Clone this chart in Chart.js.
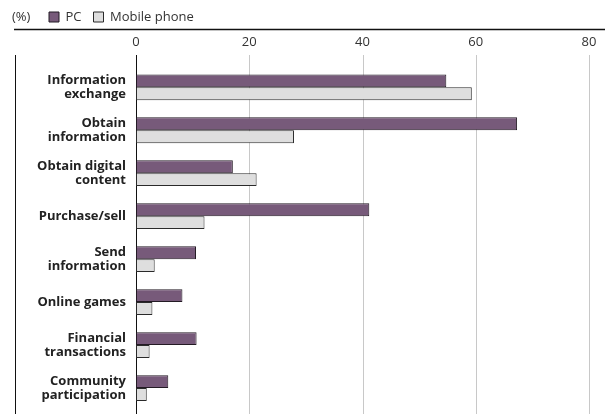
<!DOCTYPE html>
<html>
<head>
<meta charset="utf-8">
<script src="https://cdn.jsdelivr.net/npm/chart.js@4.4.1/dist/chart.umd.min.js"></script>
<style>
  html, body { margin: 0; padding: 0; background: #fff; }
  #wrap { width: 605px; height: 414px; position: relative; }
</style>
</head>
<body>
<div id="wrap"><canvas id="usoInternet"></canvas></div>
<script>
// categorias e valores (%)
const categorias = [
  ['Information', 'exchange'],
  ['Obtain', 'information'],
  ['Obtain digital', 'content'],
  'Purchase/sell',
  ['Send', 'information'],
  'Online games',
  ['Financial', 'transactions'],
  ['Community', 'participation']
];
const valoresPC = [54.8, 67.3, 17.1, 41.2, 10.6, 8.2, 10.7, 5.7];
const valoresCelular = [59.3, 27.9, 21.3, 12.1, 3.3, 2.9, 2.4, 1.9];
const marcasX = [0, 20, 40, 60, 80];

const fonte = 'Open Sans';

// linhas de moldura e grade desenhadas por baixo das barras
const molduraPlugin = {
  id: 'moldura',
  afterLayout(chart) {
    // sobe um pouco a legenda
    chart.legend.top -= 1.5;
    chart.legend.bottom -= 1.5;
  },
  beforeDatasetsDraw(chart) {
    const ctx = chart.ctx;
    const x = chart.scales.x;
    const topo = 55, base = 414;
    ctx.save();
    ctx.lineWidth = 1;
    marcasX.forEach(v => {
      if (v === 0) return;
      const px = Math.round(x.getPixelForValue(v)) + 0.5;
      ctx.strokeStyle = '#c8c8c8';
      ctx.beginPath();
      ctx.moveTo(px, topo);
      ctx.lineTo(px, base);
      ctx.stroke();
    });
    // eixo zero
    const px0 = Math.round(x.getPixelForValue(0)) + 0.5;
    ctx.strokeStyle = '#111';
    ctx.beginPath();
    ctx.moveTo(px0, topo);
    ctx.lineTo(px0, base);
    ctx.stroke();
    // linha vertical da esquerda
    ctx.beginPath();
    ctx.moveTo(15.5, topo);
    ctx.lineTo(15.5, base);
    ctx.stroke();
    // linha horizontal do topo
    ctx.lineWidth = 1.4;
    ctx.beginPath();
    ctx.moveTo(14, 29.5);
    ctx.lineTo(605, 29.5);
    ctx.stroke();
    // unidade
    ctx.fillStyle = '#333';
    ctx.font = '13px "' + fonte + '"';
    ctx.textBaseline = 'middle';
    ctx.textAlign = 'left';
    ctx.fillText('(%)', 12, 17);
    ctx.restore();
  }
};

function semFolga(scale) {
  scale.paddingTop = 0;
  scale.paddingBottom = 0;
  scale.paddingLeft = 0;
  scale.paddingRight = 0;
}

const ctx = document.getElementById('usoInternet').getContext('2d');
const grafico = new Chart(ctx, {
  type: 'bar',
  data: {
    labels: categorias,
    datasets: [
      {
        label: 'PC',
        data: valoresPC,
        backgroundColor: '#775a7a',
        borderColor: '#231a24',
        borderWidth: 1,
        borderSkipped: false
      },
      {
        label: 'Mobile phone',
        data: valoresCelular,
        backgroundColor: '#dedede',
        borderColor: '#2a2a2a',
        borderWidth: 1,
        borderSkipped: false
      }
    ]
  },
  options: {
    indexAxis: 'y',
    responsive: true,
    maintainAspectRatio: false,
    animation: false,
    categoryPercentage: 0.6,
    barPercentage: 1,
    layout: {
      padding: { top: 0, left: 37, right: 16, bottom: 4.5 }
    },
    plugins: {
      legend: {
        position: 'top',
        align: 'start',
        labels: {
          boxWidth: 10,
          boxHeight: 10,
          padding: 12,
          color: '#333',
          font: { family: fonte, size: 13 }
        }
      },
      tooltip: { enabled: false }
    },
    scales: {
      x: {
        position: 'top',
        min: 0,
        max: 80,
        afterBuildTicks(scale) {
          scale.ticks = marcasX.map(v => ({ value: v }));
        },
        afterFit(scale) {
          scale.height = 30.8;
          semFolga(scale);
        },
        grid: { display: false, drawTicks: false },
        border: { display: false },
        ticks: {
          padding: 15.5,
          color: '#333',
          font: { family: fonte, size: 13 }
        }
      },
      y: {
        afterFit(scale) {
          scale.width = 99;
          semFolga(scale);
        },
        grid: { display: false, drawTicks: false },
        border: { display: false },
        ticks: {
          padding: 10,
          color: '#222',
          font: { family: fonte, size: 13, weight: 'bold', lineHeight: 1.08 }
        }
      }
    }
  },
  plugins: [molduraPlugin]
});
</script>
</body>
</html>
